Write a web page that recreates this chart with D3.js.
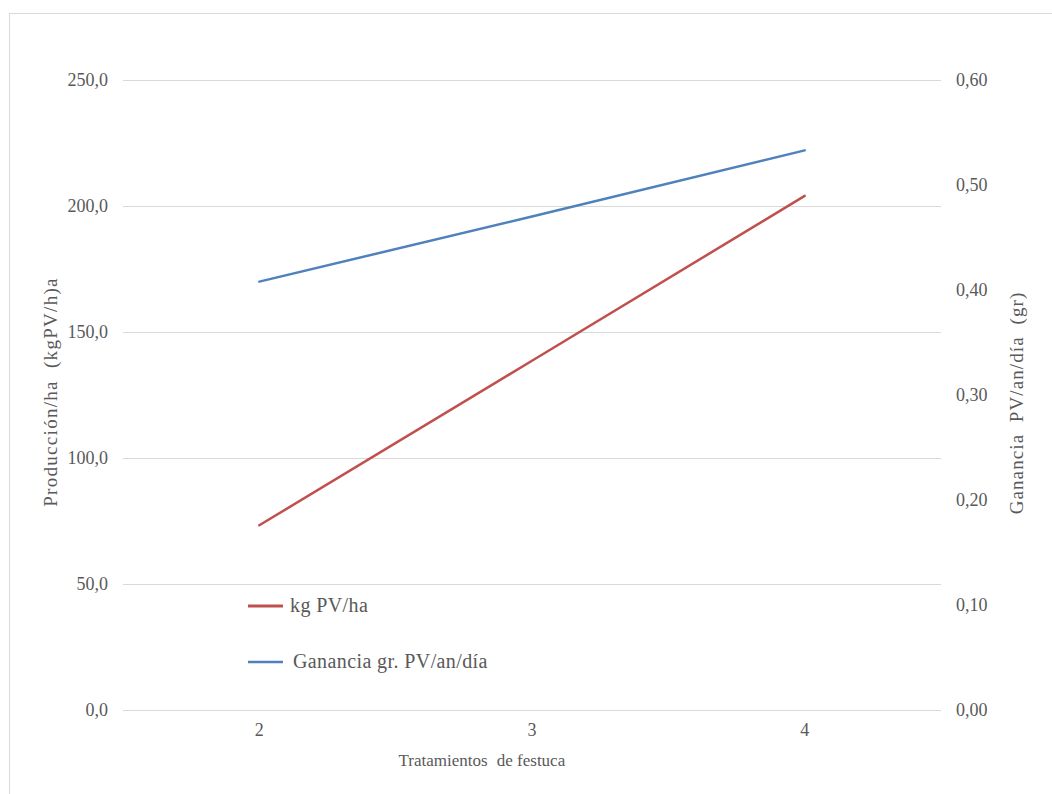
<!DOCTYPE html>
<html><head><meta charset="utf-8">
<script src="https://cdn.jsdelivr.net/npm/d3@7/dist/d3.min.js"></script>
<style>body{margin:0;background:#fff}svg{display:block}text{font-family:"Liberation Serif","Times New Roman",serif;fill:#595959}</style>
</head><body><svg id="c" width="1052" height="794"></svg>
<script>
const categories = ["2","3","4"];
const produccion = [73.3, 138.6, 204.0];
const ganancia = [0.408, 0.470, 0.533];
const leftTicks = [0,50,100,150,200,250];
const rightTicks = [0,0.1,0.2,0.3,0.4,0.5,0.6];
const seriesNames = ["kg PV/ha","Ganancia gr. PV/an/día"];
const colors = ["#C0504D","#4F81BD"];

const svg = d3.select("#c");
svg.append("rect").attr("x",9.5).attr("y",13.5).attr("width",1060).attr("height",800)
  .attr("fill","none").attr("stroke","#d9d9d9");

const L=123, R=941, T=80, B=710;
const x = d3.scaleBand().domain(categories).range([L,R]);
const yL = d3.scaleLinear().domain([0,250]).range([B,T]);
const yR = d3.scaleLinear().domain([0,0.6]).range([B,T]);
const fmt1 = d => d.toFixed(1).replace(".",",");
const fmt2 = d => d.toFixed(2).replace(".",",");

// gridlines
svg.append("g").selectAll("line").data(leftTicks).join("line")
  .attr("x1",L).attr("x2",R).attr("y1",d=>Math.round(yL(d))+0.5).attr("y2",d=>Math.round(yL(d))+0.5)
  .attr("stroke","#d9d9d9").attr("stroke-width",1);

// left axis
const gl = svg.append("g").attr("transform",`translate(${L},0)`)
  .call(d3.axisLeft(yL).tickValues(leftTicks).tickFormat(fmt1).tickSize(0).tickPadding(15));
gl.select(".domain").remove();
gl.selectAll("text").style("font-size","18px").attr("fill","#595959");

// right axis
const gr = svg.append("g").attr("transform",`translate(${R},0)`)
  .call(d3.axisRight(yR).tickValues(rightTicks).tickFormat(fmt2).tickSize(0).tickPadding(15));
gr.select(".domain").remove();
gr.selectAll("text").style("font-size","18px").attr("fill","#595959");

// bottom axis
const gb = svg.append("g").attr("transform",`translate(0,${B})`)
  .call(d3.axisBottom(x).tickSize(0).tickPadding(13));
gb.select(".domain").remove();
gb.selectAll("text").style("font-size","18px").attr("fill","#595959");
svg.selectAll(".tick text").style("font-family","'Liberation Serif','Times New Roman',serif");

// lines
const lineL = d3.line().x((d,i)=>x(categories[i])+x.bandwidth()/2).y(d=>yL(d));
const lineR = d3.line().x((d,i)=>x(categories[i])+x.bandwidth()/2).y(d=>yR(d));
svg.append("path").datum(produccion).attr("d",lineL).attr("fill","none").attr("stroke",colors[0]).attr("stroke-width",2.5).attr("stroke-linecap","round");
svg.append("path").datum(ganancia).attr("d",lineR).attr("fill","none").attr("stroke",colors[1]).attr("stroke-width",2.5).attr("stroke-linecap","round");

// axis titles
svg.append("text").attr("transform",`translate(57,392) rotate(-90)`).attr("text-anchor","middle")
  .style("font-size","19px").style("letter-spacing","1.3px").attr("xml:space","preserve").text("Producción/ha  (kgPV/h)a");
svg.append("text").attr("transform",`translate(1023,403) rotate(-90)`).attr("text-anchor","middle")
  .style("font-size","19px").style("letter-spacing","1.1px").attr("xml:space","preserve").text("Ganancia  PV/an/día  (gr)");
svg.append("text").attr("x",443).attr("y",766).attr("text-anchor","middle")
  .style("font-size","17px").text("Tratamientos");
svg.append("text").attr("x",531).attr("y",766).attr("text-anchor","middle")
  .style("font-size","17px").text("de festuca");

// legend
const leg = svg.append("g");
[606,662].forEach((yy,i)=>{
  leg.append("line").attr("x1",248).attr("x2",283).attr("y1",yy).attr("y2",yy).attr("stroke",colors[i]).attr("stroke-width",i===0?3:2.5);
  leg.append("text").attr("x",i===0?290:293).attr("y",yy+6).style("font-size","20px").style("letter-spacing","0.4px").text(seriesNames[i]);
});
</script></body></html>
